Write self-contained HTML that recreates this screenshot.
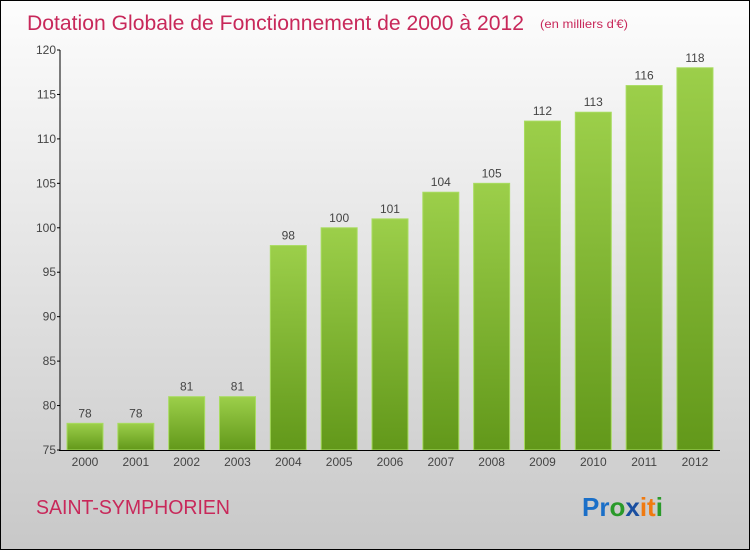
<!DOCTYPE html>
<html><head><meta charset="utf-8"><style>
body{margin:0}
#c{width:750px;height:550px;position:relative;overflow:hidden}
</style></head><body>
<div id="c">
<svg id="s" width="750" height="550" xmlns="http://www.w3.org/2000/svg" font-family="Liberation Sans, sans-serif">
<defs>
<linearGradient id="bg" x1="0" y1="0" x2="0" y2="1"><stop offset="0" stop-color="#fdfdfd"/><stop offset="1" stop-color="#c8c8c8"/></linearGradient>
<linearGradient id="bar" x1="0" y1="0" x2="0" y2="1"><stop offset="0" stop-color="#9ccf4a"/><stop offset="1" stop-color="#62981a"/></linearGradient>
</defs>
<rect x="0.5" y="0.5" width="749" height="549" fill="url(#bg)" stroke="#000"/>
<text x="27" y="30" font-size="21" fill="#c8285a" textLength="497" lengthAdjust="spacingAndGlyphs">Dotation Globale de Fonctionnement de 2000 à 2012</text>
<text x="540" y="28" font-size="12" fill="#c8285a" textLength="88" lengthAdjust="spacingAndGlyphs">(en milliers d'€)</text>
<g id="bars"></g>
<g id="axes"></g>
<text x="36" y="514" font-size="20" fill="#c8285a" textLength="194" lengthAdjust="spacingAndGlyphs">SAINT-SYMPHORIEN</text>
<text x="582" y="516" font-size="26" font-weight="bold"><tspan fill="#1a6fc8">Pr</tspan><tspan fill="#2a9a2a">o</tspan><tspan fill="#1a4fa0">x</tspan><tspan fill="#f07a10">it</tspan><tspan fill="#2a9a2a">i</tspan></text>
</svg>
</div>
<script>
const years=["2000","2001","2002","2003","2004","2005","2006","2007","2008","2009","2010","2011","2012"];
const values=[78,78,81,81,98,100,101,104,105,112,113,116,118];
const yTicks=[75,80,85,90,95,100,105,110,115,120];
const NS="http://www.w3.org/2000/svg";
const y0=450,yMin=75,yMax=120,ppu=400/45;
const yScale=v=>y0-(v-yMin)*ppu;
const xScale=i=>85+i*50.83;
const bw=36;
const bars=document.getElementById('bars'),axes=document.getElementById('axes');
function mk(tag,attrs,parent,txt){const e=document.createElementNS(NS,tag);for(const k in attrs)e.setAttribute(k,attrs[k]);if(txt!==undefined)e.textContent=txt;parent.appendChild(e);return e;}
values.forEach((v,i)=>{
 const cx=xScale(i),y=yScale(v);
 const r=mk('rect',{x:cx-bw/2,y:y,width:bw,height:y0-y,fill:'url(#bar)',stroke:'#a8dc60','stroke-width':1},bars);
 
 
 const t=mk('text',{x:cx,y:y-6,'font-size':12,fill:'#444','text-anchor':'middle'},bars,String(v));
 
 
 const xl=mk('text',{x:cx,y:466,'font-size':12,fill:'#444','text-anchor':'middle'},axes,years[i]);
 
 
});
const ya=mk('line',{x1:60,y1:50,x2:60,y2:451,stroke:'#000','stroke-width':1},axes);


const xa=mk('line',{x1:59,y1:450.5,x2:720,y2:450.5,stroke:'#000','stroke-width':1},axes);


yTicks.forEach(v=>{
 const y=yScale(v);
 mk('line',{x1:57,y1:y,x2:60,y2:y,stroke:'#000'},axes);
 const t=mk('text',{x:56,y:y+4,'font-size':12,fill:'#444','text-anchor':'end'},axes,String(v));
 
 
});
</script>
</body></html>
